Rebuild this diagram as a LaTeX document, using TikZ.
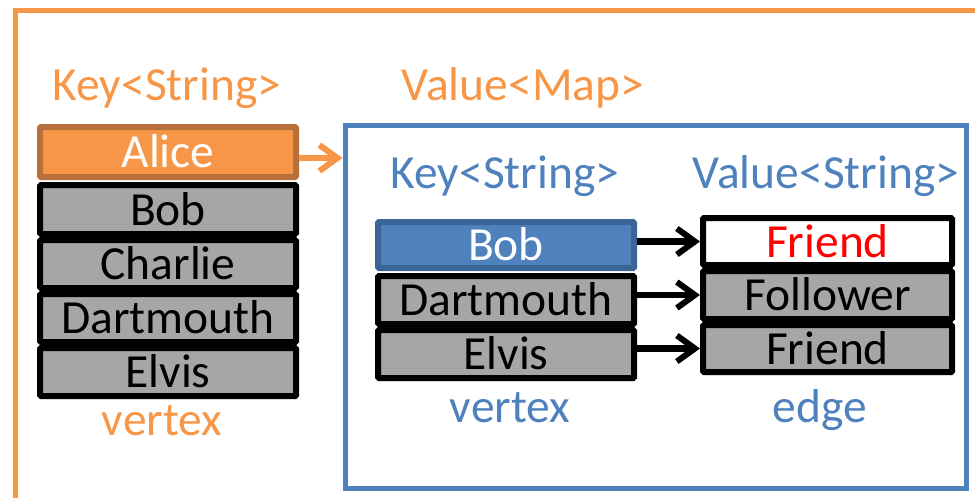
\documentclass[tikz,border=0pt]{standalone}
\usepackage{fontspec}
\setmainfont{Carlito}
\usetikzlibrary{arrows.meta,shadows}

\definecolor{orng}{HTML}{F79646}
\definecolor{orngdark}{HTML}{B8703A}
\definecolor{blu}{HTML}{4F81BD}
\definecolor{bludark}{HTML}{3A6596}
\definecolor{cellgray}{HTML}{A6A6A6}

\tikzset{
  big/.style={font=\fontsize{47.5}{52}\selectfont},
  cell/.style={big, draw=black, line width=6pt, fill=cellgray, rounded corners=1pt,
    inner sep=0pt, text height=31pt, text depth=0pt},
  shade/.style={drop shadow={shadow xshift=1pt, shadow yshift=-3pt, opacity=0.3}},
  keycol/.style={cell, minimum width=256pt},
  valcol/.style={cell, minimum width=249pt},
  lbl/.style={big, anchor=base, inner sep=0pt},
  barb/.style={-{Straight Barb[length=18pt,width=26pt,line width=6pt]}},
  link/.style={line width=6.5pt, barb},
}

\begin{document}
\begin{tikzpicture}[x=1pt,y=-1pt]
  \useasboundingbox (0,0) rectangle (975,498);
  \clip (0,0) rectangle (975,498);

  % outer frame (runs past the right and bottom edges)
  \draw[orng, line width=5pt] (15,10) rectangle (1000,530);

  % outer map: key column
  \node[lbl, text=orng] (klbl) at (167,100) {Key<String>};
  \node[lbl, text=orng] (vlbl) at (523,100) {Value<Map>};

  \node[keycol, fill=orng, draw=orngdark, text=white, minimum height=50pt] (alice) at (168,152) {Alice};
  \node[keycol, shade, minimum height=49pt] (bob)   at (168,209.5) {Bob};
  \node[keycol, shade, minimum height=48pt] (charlie) at (168,264) {Charlie};
  \node[keycol, shade, minimum height=48pt] (dart)  at (168,318) {Dartmouth};
  \node[keycol, shade, minimum height=48pt] (elvis) at (168,372) {Elvis};
  \node[lbl, text=orng] (vtx1) at (162,435) {vertex};

  % inner map container
  \node[draw=blu, line width=5pt, minimum width=621pt, minimum height=363pt, inner sep=0pt] (valbox) at (655.5,306.5) {};

  \draw[orng, link]
    ([yshift=-6pt]alice.east) -- ([yshift=-6pt]alice.east -| valbox.west);

  \node[lbl, text=blu] (iklbl) at (505,188) {Key<String>};
  \node[lbl, text=blu] (ivlbl) at (826,188) {Value<String>};

  \node[keycol, fill=blu, draw=bludark, text=white, minimum height=46pt] (ibob) at (506,245) {Bob};
  \node[keycol, shade, minimum height=48pt] (idart)  at (506,300) {Dartmouth};
  \node[keycol, shade, minimum height=48pt] (ielvis) at (506,354) {Elvis};

  \node[valcol, fill=white, text=red, minimum height=47pt] (e1) at (827.5,241.5) {Friend};
  \node[valcol, shade, minimum height=48pt] (e2) at (827.5,295) {Follower};
  \node[valcol, shade, minimum height=47pt] (e3) at (827.5,348.5) {Friend};

  \draw[link] (ibob.east |- e1.west) -- (e1.west);
  \draw[link] (idart.east |- e2.west) -- (e2.west);
  \draw[link] (ielvis.east |- e3.west) -- (e3.west);

  \node[lbl, text=blu] (vtx2) at (510,422) {vertex};
  \node[lbl, text=blu] (edg)  at (820,422) {edge};
\end{tikzpicture}
\end{document}
